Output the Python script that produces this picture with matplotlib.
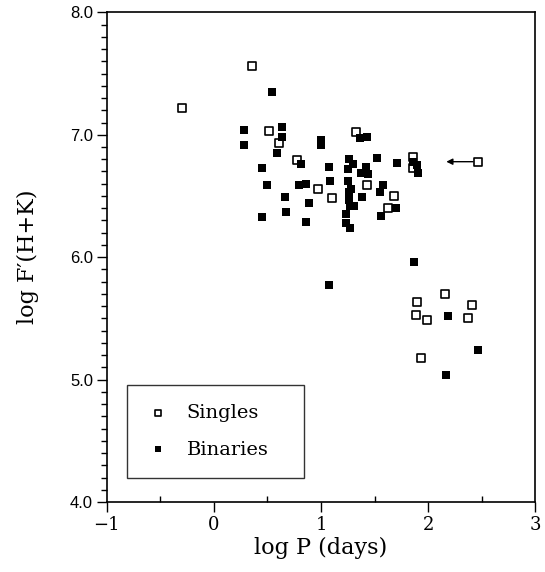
import matplotlib
matplotlib.use("Agg")
import matplotlib.pyplot as plt
from matplotlib.ticker import MultipleLocator, FixedLocator

# Singles (open squares)
singles_logp = [0.36, -0.30, 0.51, 0.61, 0.78, 0.97, 1.10, 1.33, 1.43, 1.68,
                1.63, 1.86, 1.86, 2.47, 2.16, 1.90, 2.41, 1.89, 1.99, 2.37, 1.93]
singles_flux = [7.56, 7.22, 7.03, 6.93, 6.79, 6.56, 6.48, 7.02, 6.59, 6.50,
                6.40, 6.82, 6.73, 6.78, 5.70, 5.63, 5.61, 5.53, 5.49, 5.50, 5.18]

# Binaries (filled squares)
binaries_logp = [0.54, 0.28, 0.28, 0.64, 0.64, 0.59, 1.00, 1.00, 0.45, 0.81,
                 1.07, 1.25, 1.26, 0.50, 0.79, 0.86, 1.08, 1.25, 0.66, 1.36,
                 1.43, 1.30, 1.42, 1.37, 1.44, 1.52, 1.71, 1.86, 1.90, 1.91,
                 1.28, 1.26, 1.58, 1.55, 1.38, 0.89, 1.26, 1.27, 1.31, 1.70,
                 1.56, 1.23, 0.86, 1.23, 1.27, 0.67, 0.45, 1.87, 1.07, 2.19,
                 2.47, 2.17]
binaries_flux = [7.35, 7.04, 6.92, 7.06, 6.98, 6.85, 6.96, 6.92, 6.73, 6.76,
                 6.74, 6.72, 6.80, 6.59, 6.59, 6.60, 6.62, 6.62, 6.49, 6.97,
                 6.98, 6.76, 6.74, 6.69, 6.68, 6.81, 6.77, 6.78, 6.75, 6.69,
                 6.56, 6.53, 6.59, 6.53, 6.49, 6.44, 6.47, 6.42, 6.42, 6.40,
                 6.34, 6.35, 6.29, 6.28, 6.24, 6.37, 6.33, 5.96, 5.77, 5.52,
                 5.24, 5.04]

# upper limit arrow on the rightmost single
arrow_from = (2.47, 6.78)
arrow_to = (2.17, 6.78)

serif = "DejaVu Serif"
sans = "Liberation Sans"

fig = plt.figure(figsize=(5.45, 5.72), dpi=100)
ax = fig.add_axes([0.196, 0.1224, 0.786, 0.856])

ax.scatter(singles_logp, singles_flux, marker="s", s=26, facecolors="white",
           edgecolors="black", linewidths=1.2, zorder=3, label="Singles")
ax.scatter(binaries_logp, binaries_flux, marker="s", s=36, color="black",
           linewidths=0, zorder=3, label="Binaries")

ax.annotate("", xy=arrow_to, xytext=(arrow_from[0] - 0.05, arrow_from[1]),
            arrowprops=dict(arrowstyle="-|>", color="black", lw=1.0,
                            mutation_scale=9, shrinkA=0, shrinkB=0))

ax.set_xlim(-1, 3)
ax.set_ylim(4.0, 8.0)

ax.xaxis.set_major_locator(MultipleLocator(1))
ax.xaxis.set_minor_locator(FixedLocator([-0.5, 0.5, 1.5, 2.5]))
ax.yaxis.set_major_locator(MultipleLocator(1))
ax.yaxis.set_minor_locator(MultipleLocator(0.1))

ax.tick_params(axis="x", which="major", direction="out", length=7, width=1,
               labelsize=13, pad=3)
ax.tick_params(axis="x", which="minor", direction="in", length=4, width=1)
ax.tick_params(axis="y", which="major", direction="out", length=7, width=1,
               labelsize=12, pad=3)
ax.tick_params(axis="y", which="minor", direction="out", length=4, width=1)

ax.set_xticks([-1, 0, 1, 2, 3])
ax.set_xticklabels(["\u22121", "0", "1", "2", "3"], family=serif)
ax.set_yticks([4.0, 5.0, 6.0, 7.0, 8.0])
ax.set_yticklabels(["4.0", "5.0", "6.0", "7.0", "8.0"], family=sans)

for sp in ax.spines.values():
    sp.set_linewidth(1.2)

ax.set_xlabel("log P (days)", family=serif, fontsize=16, labelpad=2)
ax.set_ylabel("log F\u2032(H+K)", family=serif, fontsize=16, labelpad=22)

leg = ax.legend(loc="lower left", bbox_to_anchor=(0.046, 0.049, 0.414, 0.186),
                mode="expand",
                prop={"family": serif, "size": 14}, markerscale=0.75,
                frameon=True, fancybox=False, edgecolor="black",
                borderpad=1.0, labelspacing=0.95, handletextpad=0.9,
                handlelength=1.2, borderaxespad=0)
leg.get_frame().set_linewidth(1.0)

fig.savefig("out.png", dpi=100)
